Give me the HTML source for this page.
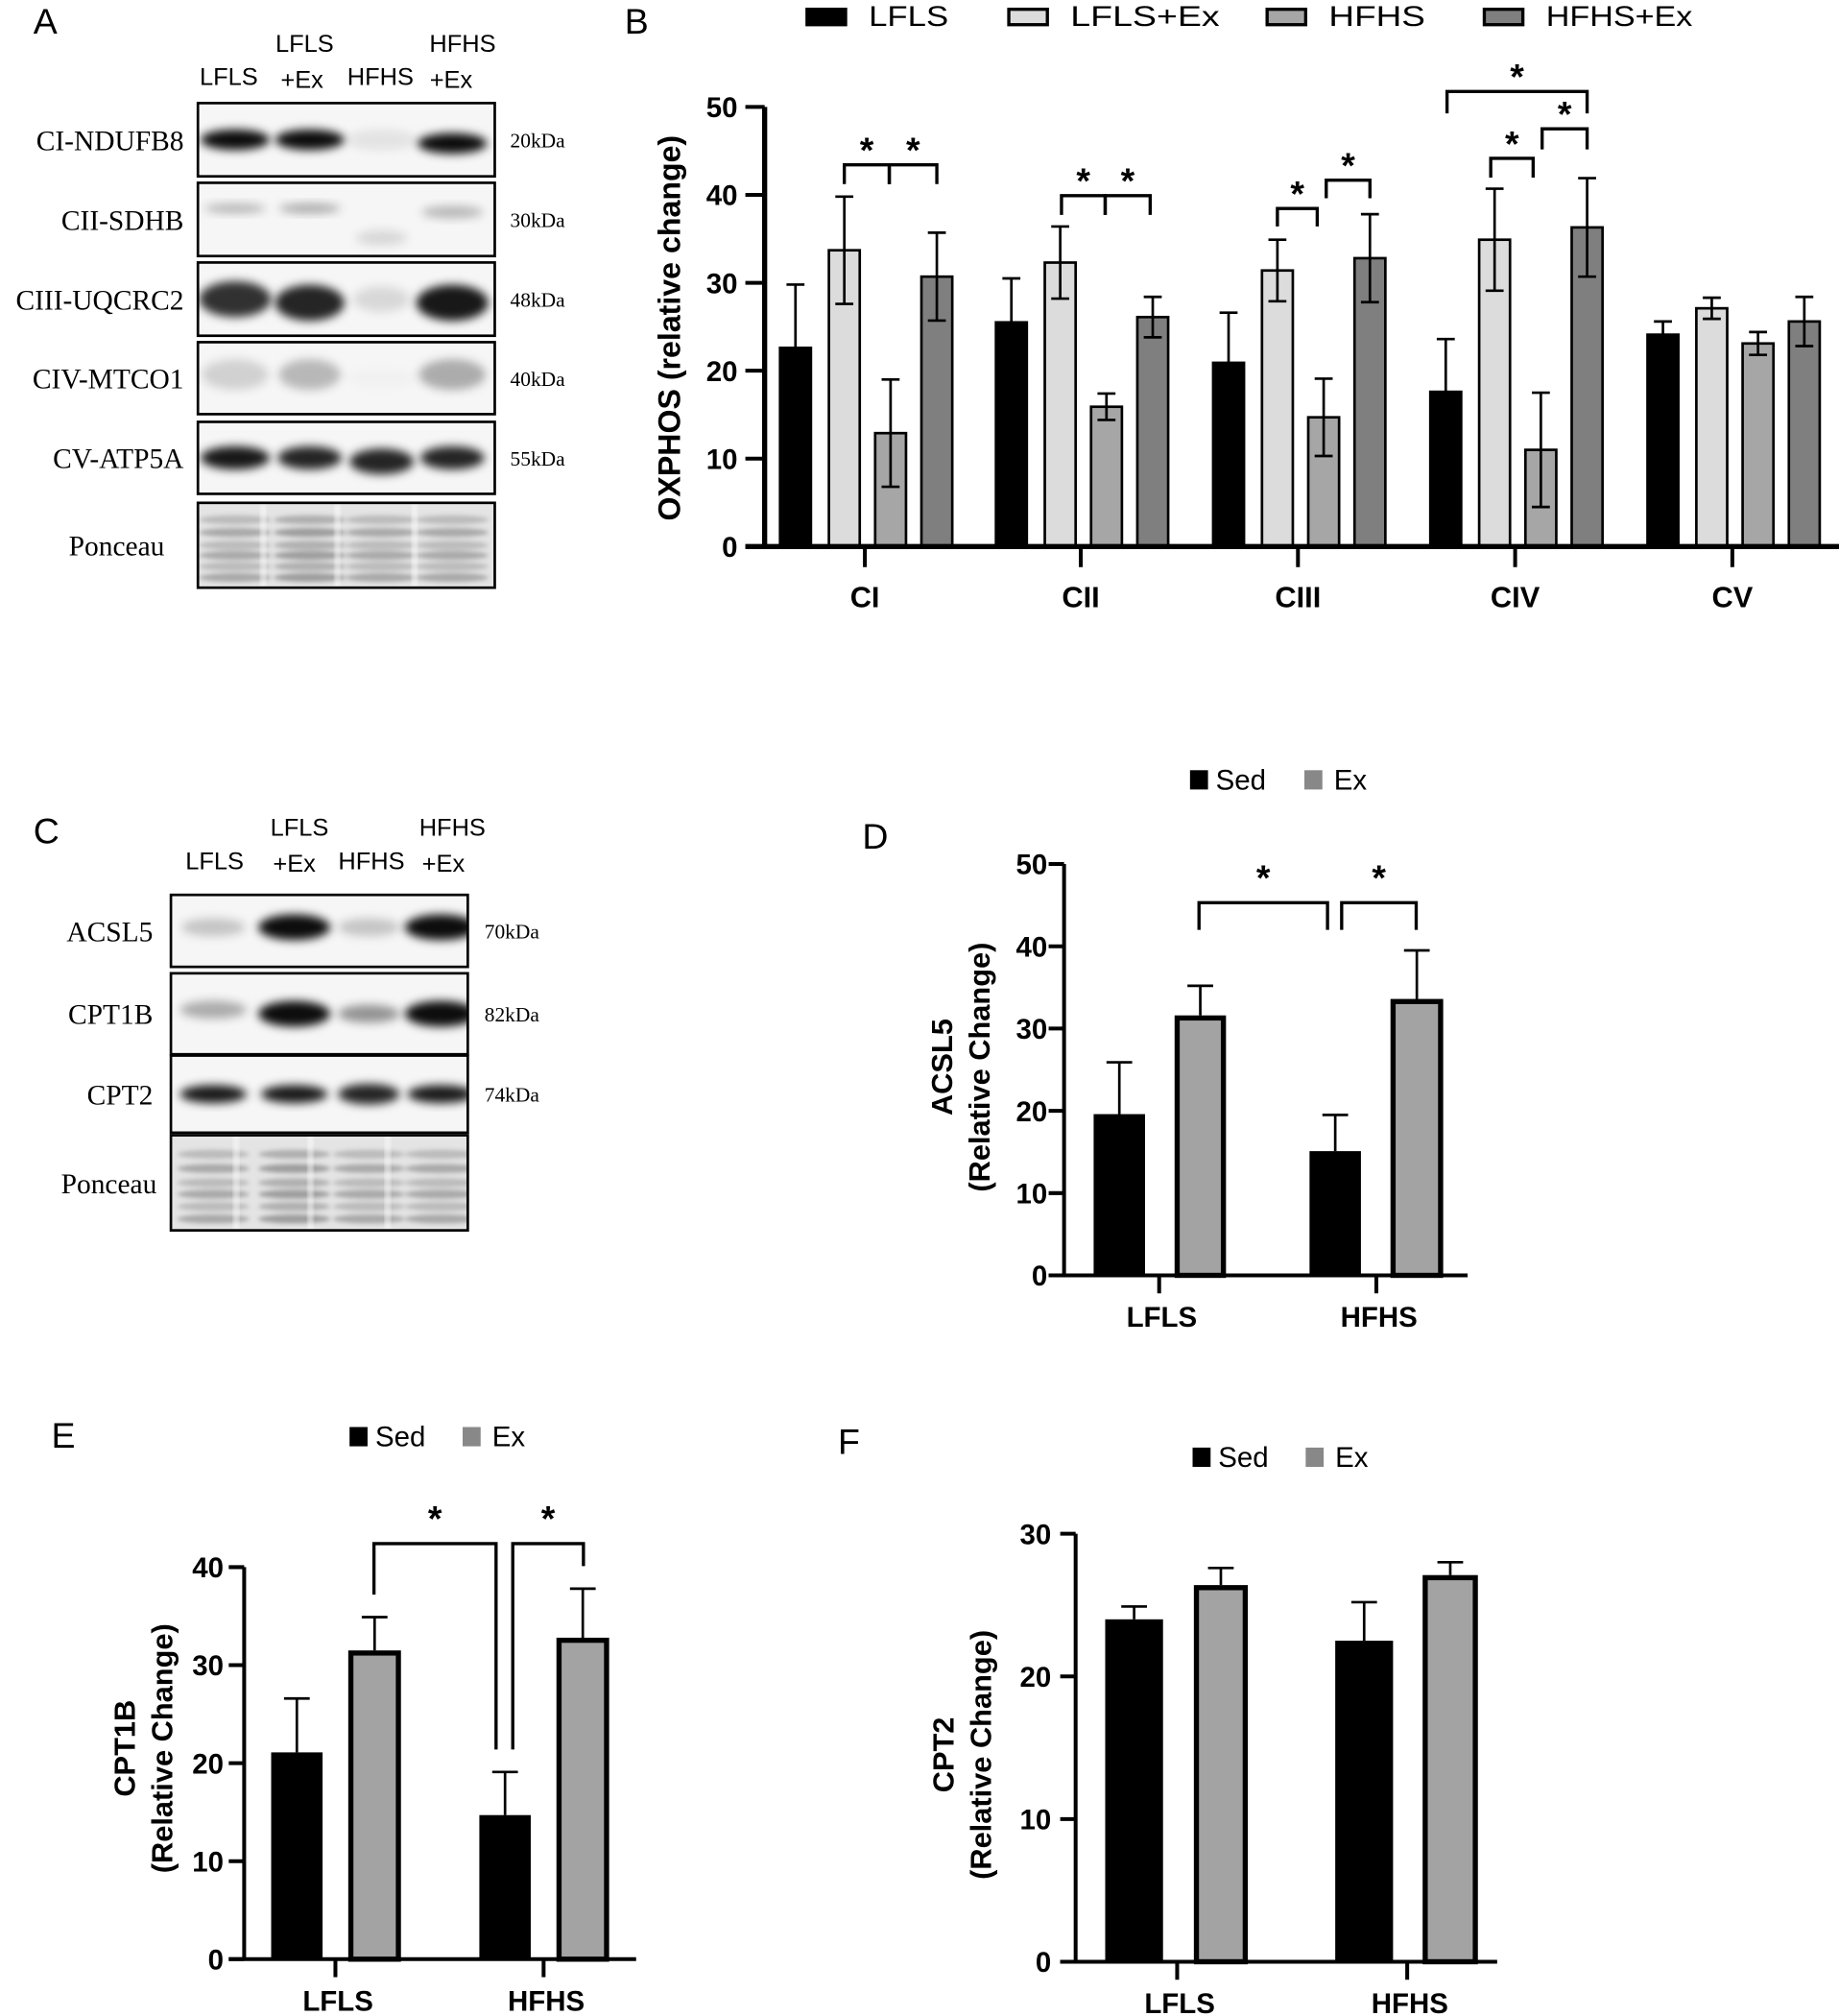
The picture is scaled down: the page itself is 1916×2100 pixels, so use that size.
<!DOCTYPE html>
<html><head><meta charset="utf-8"><style>
html,body{margin:0;padding:0;background:#fff;}
svg{display:block;font-family:"Liberation Sans",sans-serif;}
.serif{font-family:"Liberation Serif",serif;}
.narrow{font-family:"Liberation Sans Narrow","Liberation Sans",sans-serif;}
</style></head><body>
<svg id="fig" width="1916" height="2100" viewBox="0 0 1431 1568" xmlns="http://www.w3.org/2000/svg">
<defs>
<filter id="blur" x="-20%" y="-50%" width="140%" height="200%"><feGaussianBlur stdDeviation="3.5"/></filter>
<filter id="blur2" x="-20%" y="-50%" width="140%" height="200%"><feGaussianBlur stdDeviation="1.8"/></filter>
</defs>
<g font-size="28" fill="#000">
<text x="26" y="26">A</text>
<text x="486" y="26">B</text>
<text x="26" y="656">C</text>
<text x="671" y="660">D</text>
<text x="40" y="1126">E</text>
<text x="652" y="1131">F</text>
</g>
<g id="blots"></g>
<g id="chartB"></g>
<g id="chartD"></g>
<g id="chartE"></g>
<g id="chartF"></g>
</svg>
<script>
// ---------- Panel B data ----------
const bCategories = ["CI","CII","CIII","CIV","CV"];
const bSeriesNames = ["LFLS","LFLS+Ex","HFHS","HFHS+Ex"];
const bLFLS = [22.6,25.5,20.9,17.6,24.1];
const bLFLSEx = [33.7,32.3,31.4,34.9,27.1];
const bHFHS = [12.9,15.9,14.7,11.0,23.1];
const bHFHSEx = [30.7,26.1,32.8,36.3,25.6];
const bErrLFLS = [7.2,5.0,5.7,6.0,1.5];
const bErrLFLSEx = [6.1,4.1,3.5,5.8,1.2];
const bErrHFHS = [6.1,1.5,4.4,6.5,1.3];
const bErrHFHSEx = [5.0,2.3,5.0,5.6,2.8];
const bTicks = [0,10,20,30,40,50];
// ---------- Panel D/E/F data ----------
const groups = ["LFLS","HFHS"];
const dSed = [19.6,15.1], dEx = [31.6,33.6], dSedErr = [6.3,4.4], dExErr = [3.6,5.9];
const dTicks = [0,10,20,30,40,50];
const eSed = [21.1,14.7], eEx = [31.5,32.8], eSedErr = [5.5,4.4], eExErr = [3.4,5.0];
const eTicks = [0,10,20,30,40];
const fSed = [24.0,22.5], fEx = [26.4,27.1], fSedErr = [0.9,2.7], fExErr = [1.2,0.9];
const fTicks = [0,10,20,30];

const NS="http://www.w3.org/2000/svg";
function el(parent,tag,attrs,text){const e=document.createElementNS(NS,tag);for(const k in attrs)e.setAttribute(k,attrs[k]);if(text!==undefined)e.textContent=text;parent.appendChild(e);return e;}

// ---------- Blots ----------
const blots=document.getElementById('blots');
function blot(x,y,w,h,label,kda,lanes,bands,name,lblX,kdaX,ponceau){
  const g=el(blots,'g',{});
  
  
  el(g,'rect',{x:x,y:y,width:w,height:h,fill:ponceau?'#e4e4e4':'#f6f6f6'});
  const cpId='c'+name;
  const cp=el(g,'clipPath',{id:cpId});
  el(cp,'rect',{x:x,y:y,width:w,height:h});
  const cg=el(g,'g',{'clip-path':'url(#'+cpId+')'});
  if(ponceau){
    lanes.forEach((lx,i)=>{
      [0.2,0.35,0.5,0.62,0.75,0.88].forEach((f,k)=>{
        el(cg,'ellipse',{cx:lx,cy:y+h*f,rx:28,ry:3.5,fill:'#000','fill-opacity':0.18+0.08*(k%2)+(i==1?0.05:0),filter:'url(#blur2)'});
      });
    });
    [x+w*0.22,x+w*0.47,x+w*0.73].forEach(sx=>el(cg,'rect',{x:sx-2,y:y,width:4,height:h,fill:'#fff','fill-opacity':0.6,filter:'url(#blur2)'}));
  } else {
    bands.forEach((b,i)=>{ if(b[0]>0) el(cg,'ellipse',{cx:lanes[i],cy:y+h*b[1],rx:b[2]||27,ry:b[3]||8,fill:'#000','fill-opacity':b[0],filter:'url(#blur)'}); });
  }
  el(g,'rect',{x:x,y:y,width:w,height:h,fill:'none',stroke:'#000','stroke-width':2});
  el(g,'text',{x:lblX,y:y+h/2+8,'text-anchor':'end','font-size':22,class:'serif'},label);
  if(kda) el(g,'text',{x:kdaX,y:y+h/2+6,'font-size':16,class:'serif'},kda);
}
const lanesA=[183,241,297,352];
blot(154,80,231,57,'CI-NDUFB8','20kDa',lanesA,[[0.95,0.5],[0.95,0.5],[0.08,0.5],[0.95,0.55]],'blot-ndufb8',143,397);
blot(154,142,231,57,'CII-SDHB','30kDa',lanesA,[[0.25,0.35,24,4],[0.3,0.35,24,4],[0.12,0.75,20,6],[0.25,0.4,24,5]],'blot-sdhb',143,397);
blot(154,204,231,57,'CIII-UQCRC2','48kDa',lanesA,[[0.8,0.5,28,14],[0.85,0.55,27,14],[0.12,0.5,22,10],[0.9,0.55,28,14]],'blot-uqcrc2',143,397);
blot(154,266,231,56,'CIV-MTCO1','40kDa',lanesA,[[0.15,0.45,26,12],[0.25,0.45,24,12],[0.02,0.5],[0.3,0.45,26,12]],'blot-mtco1',143,397);
blot(154,328,231,56,'CV-ATP5A','55kDa',lanesA,[[0.9,0.5,27,9],[0.85,0.5,25,9],[0.85,0.55,25,10],[0.85,0.5,25,9]],'blot-atp5a',143,397);
blot(154,391,231,66,'Ponceau','',lanesA,[],'blot-ponceau-a',128,0,true);
const lanesC=[166,229,287,343];
blot(133,696,231,56,'ACSL5','70kDa',lanesC,[[0.2,0.45,25,7],[0.95,0.45,28,10],[0.2,0.45,24,7],[0.95,0.45,28,10]],'blot-acsl5',119,377);
blot(133,757,231,63,'CPT1B','82kDa',lanesC,[[0.3,0.45,26,7],[0.95,0.5,28,10],[0.4,0.5,24,7],[0.95,0.5,28,10]],'blot-cpt1b',119,377);
blot(133,821,231,60,'CPT2','74kDa',lanesC,[[0.9,0.5,26,7],[0.9,0.5,26,7],[0.85,0.5,24,8],[0.9,0.5,26,7]],'blot-cpt2',119,377);
blot(133,883,231,74,'Ponceau','',lanesC,[],'blot-ponceau-c',122,0,true);
function hdr(x,y,t,n){const e=el(blots,'text',{x:x,y:y,'text-anchor':'middle','font-size':19,class:'narrow'},t);}
hdr(178,66,'LFLS','lane-a-lfls');hdr(237,40,'LFLS','lane-a-lfls-ex');hdr(235,68,'+Ex','lane-a-lfls-ex2');
hdr(296,66,'HFHS','lane-a-hfhs');hdr(360,40,'HFHS','lane-a-hfhs-ex');hdr(351,68,'+Ex','lane-a-hfhs-ex2');
hdr(167,676,'LFLS','lane-c-lfls');hdr(233,650,'LFLS','lane-c-lfls-ex');hdr(229,678,'+Ex','lane-c-lfls-ex2');
hdr(289,676,'HFHS','lane-c-hfhs');hdr(352,650,'HFHS','lane-c-hfhs-ex');hdr(345,678,'+Ex','lane-c-hfhs-ex2');

// ---------- helpers ----------
function errBar(g,cx,v,err,both,yf,cap,name){
  const e=el(g,'path',{d:`M${cx},${yf(both?v-err:v)}V${yf(v+err)}M${cx-cap},${yf(v+err)}H${cx+cap}`+(both?`M${cx-cap},${yf(v-err)}H${cx+cap}`:''),stroke:'#000','stroke-width':2,fill:'none'});
  
}
function star(g,x,y,name){const t=el(g,'text',{x:x,y:y,'text-anchor':'middle','font-size':28,'font-weight':'bold'},'*');}
function bracket(g,x1,x2,yTop,y1b,y2b,name){const p=el(g,'path',{d:`M${x1},${y1b}V${yTop}H${x2}V${y2b}`,stroke:'#000','stroke-width':2.5,fill:'none'});}

// ---------- Panel B ----------
(function(){
  const g=document.getElementById('chartB');
  const y0=425,y50=83,ax=595;
  const yf=v=>y0-(v/50)*(y0-y50);
  const cx=[673,841,1010,1179,1348];
  const offs=[-54,-16,20,56], bw=24;
  const fills=['#000','#dcdcdc','#a6a6a6','#7f7f7f'];
  const vals=[bLFLS,bLFLSEx,bHFHS,bHFHSEx], errs=[bErrLFLS,bErrLFLSEx,bErrHFHS,bErrHFHSEx];
  bCategories.forEach((c,i)=>{
    vals.forEach((s,j)=>{
      const x=cx[i]+offs[j]-bw/2;
      const r=el(g,'rect',{x:x,y:yf(s[i]),width:bw,height:y0-yf(s[i]),fill:fills[j],stroke:'#000','stroke-width':2});
      
      
      errBar(g,cx[i]+offs[j],s[i],errs[j][i],j>0,yf,7,'error-bar-'+c.toLowerCase()+'-'+j);
    });
    el(g,'line',{x1:cx[i],x2:cx[i],y1:y0,y2:441,stroke:'#000','stroke-width':3});
    const t=el(g,'text',{x:cx[i],y:472,'text-anchor':'middle','font-size':23,'font-weight':'bold'},c);
    
  });
  const ax1=el(g,'path',{d:`M${ax},${y50}V${y0}M${ax-15},${y0}H1431`,stroke:'#000','stroke-width':4,fill:'none'});
  
  bTicks.forEach(t=>{
    el(g,'line',{x1:ax-15,x2:ax,y1:yf(t),y2:yf(t),stroke:'#000','stroke-width':3});
    const tx=el(g,'text',{x:ax-21,y:yf(t)+8,'text-anchor':'end','font-size':22,'font-weight':'bold'},t);
    
  });
  const yt=el(g,'text',{transform:'translate(529,255) rotate(-90)','text-anchor':'middle','font-size':24,'font-weight':'bold'},'OXPHOS (relative change)');
  
  const lx=[628,785,986,1155], tw=[62,116,75,114];
  bSeriesNames.forEach((n,j)=>{
    const r=el(g,'rect',{x:lx[j],y:7,width:30,height:12,fill:fills[j],stroke:'#000','stroke-width':2.5});
    
    const t=el(g,'text',{x:lx[j]+48,y:20,'font-size':22,textLength:tw[j],lengthAdjust:'spacingAndGlyphs'},n);
    
  });
  const s=[[657,692,128,143,143],[692,729,128,143,143],[826,860,152,167,167],[860,895,152,167,167],[994,1025,162,176,176],[1032,1066,140,154,154],[1160,1193,123,138,138],[1200,1235,100,116,116],[1126,1235,71,88,88]];
  s.forEach((b,k)=>{bracket(g,b[0],b[1],b[2],b[3],b[4],'sig-bracket-b-'+k);star(g,(b[0]+b[1])/2,b[2]-2,'sig-star-b-'+k);});
})();

// ---------- Panels D/E/F ----------
function groupChart(id,cfg){
  const g=document.getElementById(id);
  const yf=v=>cfg.y0-(v/cfg.max)*(cfg.y0-cfg.ymax);
  const draw=(x1,x2,v,err,ex,name)=>{
    const cx=(x1+x2)/2;
    errBar(g,cx,v,err,false,yf,10,'error-bar-'+name);
    const r=ex?el(g,'rect',{x:x1+2,y:yf(v)+2,width:x2-x1-4,height:cfg.y0-yf(v)-2,fill:'#a3a3a3',stroke:'#000','stroke-width':4}):el(g,'rect',{x:x1,y:yf(v),width:x2-x1,height:cfg.y0-yf(v),fill:'#000'});
    
  };
  groups.forEach((gr,i)=>{
    draw(cfg.sedX[i][0],cfg.sedX[i][1],cfg.sed[i],cfg.sedErr[i],false,cfg.p+'-'+gr.toLowerCase()+'-sed');
    draw(cfg.exX[i][0],cfg.exX[i][1],cfg.ex[i],cfg.exErr[i],true,cfg.p+'-'+gr.toLowerCase()+'-ex');
    el(g,'line',{x1:cfg.tickX[i],x2:cfg.tickX[i],y1:cfg.y0,y2:cfg.y0+14,stroke:'#000','stroke-width':3});
    const t=el(g,'text',{x:cfg.tickX[i]+2,y:cfg.y0+40,'text-anchor':'middle','font-size':22,'font-weight':'bold'},gr);
    
  });
  const a=el(g,'path',{d:`M${cfg.ax},${cfg.ymax}V${cfg.y0}M${cfg.ax-12},${cfg.y0}H${cfg.xEnd}`,stroke:'#000','stroke-width':3,fill:'none'});
  
  cfg.ticks.forEach(t=>{
    el(g,'line',{x1:cfg.ax-12,x2:cfg.ax,y1:yf(t),y2:yf(t),stroke:'#000','stroke-width':3});
    const tx=el(g,'text',{x:cfg.ax-cfg.lblGap,y:yf(t)+8,'text-anchor':'end','font-size':22,'font-weight':'bold'},t);
    
  });
  const yt=el(g,'text',{transform:`translate(${cfg.titleX},${cfg.titleY}) rotate(-90)`,'text-anchor':'middle','font-size':23,'font-weight':'bold'});
  
  el(yt,'tspan',{x:0,dy:0},cfg.title);el(yt,'tspan',{x:0,dy:29},'(Relative Change)');
  const L=cfg.leg;
  const s1=el(g,'rect',{x:L[0],y:L[1],width:14,height:15,fill:'#000'});
  const t1=el(g,'text',{x:L[0]+20,y:L[1]+15,'font-size':22},'Sed');
  const s2=el(g,'rect',{x:L[2],y:L[1],width:14,height:15,fill:'#888'});
  const t2=el(g,'text',{x:L[2]+23,y:L[1]+15,'font-size':22},'Ex');
  (cfg.sig||[]).forEach((b,k)=>{bracket(g,b[0],b[1],yf(b[2]),yf(b[3]),yf(b[4]),cfg.p+'-sig-bracket-'+k);star(g,(b[0]+b[1])/2,yf(b[2])-10,cfg.p+'-sig-star-'+k);});
}
groupChart('chartD',{p:'d',y0:992,ymax:672,max:50,ax:828,xEnd:1142,lblGap:13,sed:dSed,ex:dEx,sedErr:dSedErr,exErr:dExErr,ticks:dTicks,
  sedX:[[851,891],[1019,1059]],exX:[[914,954],[1082,1123]],tickX:[902,1071],title:'ACSL5',titleX:741,titleY:830,leg:[926,599,1015],
  sig:[[933,1033,45.3,42,42],[1044,1102,45.3,42,42]]});
groupChart('chartE',{p:'e',y0:1524,ymax:1219,max:40,ax:190,xEnd:495,lblGap:16,sed:eSed,ex:eEx,sedErr:eSedErr,exErr:eExErr,ticks:eTicks,
  sedX:[[211,251],[373,413]],exX:[[271,312],[433,474]],tickX:[261,423],title:'CPT1B',titleX:105,titleY:1360,leg:[272,1110,360],
  sig:[[291,386,42.4,37.2,21.4],[399,454,42.4,21.4,40.1]]});
groupChart('chartF',{p:'f',y0:1526,ymax:1193,max:30,ax:837,xEnd:1165,lblGap:19,sed:fSed,ex:fEx,sedErr:fSedErr,exErr:fExErr,ticks:fTicks,
  sedX:[[860,905],[1039,1084]],exX:[[929,971],[1107,1150]],tickX:[916,1095],title:'CPT2',titleX:742,titleY:1365,leg:[928,1126,1016]});
</script>
</body></html>
